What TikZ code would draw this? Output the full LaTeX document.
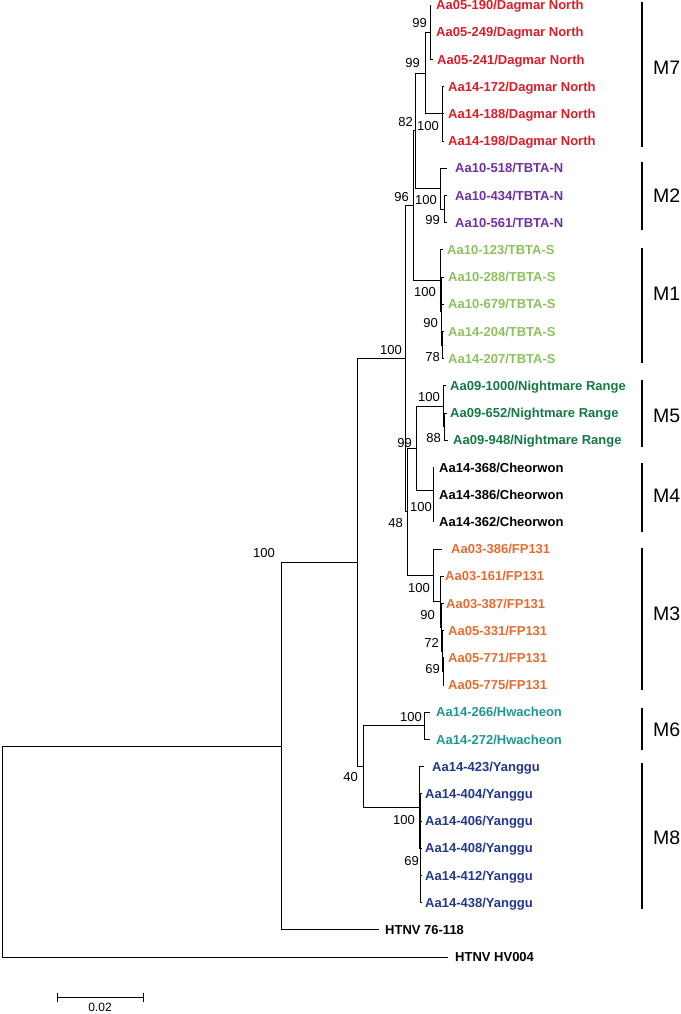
\documentclass[tikz,border=0pt]{standalone}
\usepackage{fontspec}
\setmainfont{Liberation Sans}
\definecolor{dagmar}{RGB}{218,30,40}
\definecolor{tbtan}{RGB}{112,48,160}
\definecolor{tbtas}{RGB}{141,193,96}
\definecolor{night}{RGB}{22,120,70}
\definecolor{fp}{RGB}{228,108,50}
\definecolor{hwa}{RGB}{32,150,148}
\definecolor{yang}{RGB}{35,55,140}
\tikzset{
  lab/.style={anchor=west,inner sep=0pt,text height=9.4pt,text depth=0pt,font=\fontsize{13}{15}\selectfont\bfseries},
  bs/.style={anchor=east,inner sep=0pt,text height=9.3pt,text depth=0pt,font=\fontsize{13}{15}\selectfont},
  br/.style={line width=0.9pt},
  mbar/.style={line width=1.8pt},
  mlab/.style={anchor=west,inner sep=0pt,text height=14pt,text depth=0pt,font=\fontsize{19.5}{22}\selectfont}
}
\begin{document}
\begin{tikzpicture}[x=1pt,y=-1pt]
\useasboundingbox (0,0) rectangle (680,1014);
% ---------- tips ----------
\coordinate (t0) at (431,5.0);
\coordinate (t1) at (431,32.2);
\coordinate (t2) at (433,59.4);
\coordinate (t3) at (444,86.6);
\coordinate (t4) at (444,113.8);
\coordinate (t5) at (444,141.0);
\coordinate (t6) at (447,168.2);
\coordinate (t7) at (447,195.4);
\coordinate (t8) at (447,222.6);
\coordinate (t9) at (443,249.8);
\coordinate (t10) at (444,277.0);
\coordinate (t11) at (444,304.2);
\coordinate (t12) at (444,331.4);
\coordinate (t13) at (444,358.6);
\coordinate (t14) at (446,385.8);
\coordinate (t15) at (447,413.0);
\coordinate (t16) at (448,440.2);
\coordinate (t17) at (434,467.4);
\coordinate (t18) at (434,494.6);
\coordinate (t19) at (434,521.8);
\coordinate (t20) at (442,549.0);
\coordinate (t21) at (444,576.2);
\coordinate (t22) at (444,603.4);
\coordinate (t23) at (444,630.6);
\coordinate (t24) at (444,657.8);
\coordinate (t25) at (444,685.0);
\coordinate (t26) at (430,712.2);
\coordinate (t27) at (430,739.4);
\coordinate (t28) at (424,766.6);
\coordinate (t29) at (422,793.8);
\coordinate (t30) at (422,821.0);
\coordinate (t31) at (422,848.2);
\coordinate (t32) at (422,875.4);
\coordinate (t33) at (422,902.6);
\coordinate (t34) at (379,929.8);
\coordinate (t35) at (448,957.0);
% ---------- labels ----------
\node[lab,dagmar] (l0) at (436,5.0) {Aa05-190/Dagmar North};
\node[lab,dagmar] (l1) at (436,32.2) {Aa05-249/Dagmar North};
\node[lab,dagmar] (l2) at (437,59.4) {Aa05-241/Dagmar North};
\node[lab,dagmar] (l3) at (448,86.6) {Aa14-172/Dagmar North};
\node[lab,dagmar] (l4) at (448,113.8) {Aa14-188/Dagmar North};
\node[lab,dagmar] (l5) at (448,141.0) {Aa14-198/Dagmar North};
\node[lab,tbtan] (l6) at (455,168.2) {Aa10-518/TBTA-N};
\node[lab,tbtan] (l7) at (455,195.4) {Aa10-434/TBTA-N};
\node[lab,tbtan] (l8) at (455,222.6) {Aa10-561/TBTA-N};
\node[lab,tbtas] (l9) at (447,249.8) {Aa10-123/TBTA-S};
\node[lab,tbtas] (l10) at (448,277.0) {Aa10-288/TBTA-S};
\node[lab,tbtas] (l11) at (448,304.2) {Aa10-679/TBTA-S};
\node[lab,tbtas] (l12) at (448,331.4) {Aa14-204/TBTA-S};
\node[lab,tbtas] (l13) at (448,358.6) {Aa14-207/TBTA-S};
\node[lab,night] (l14) at (450,385.8) {Aa09-1000/Nightmare Range};
\node[lab,night] (l15) at (450,413.0) {Aa09-652/Nightmare Range};
\node[lab,night] (l16) at (453,440.2) {Aa09-948/Nightmare Range};
\node[lab,black] (l17) at (439,467.4) {Aa14-368/Cheorwon};
\node[lab,black] (l18) at (439,494.6) {Aa14-386/Cheorwon};
\node[lab,black] (l19) at (439,521.8) {Aa14-362/Cheorwon};
\node[lab,fp] (l20) at (451,549.0) {Aa03-386/FP131};
\node[lab,fp] (l21) at (445,576.2) {Aa03-161/FP131};
\node[lab,fp] (l22) at (446,603.4) {Aa03-387/FP131};
\node[lab,fp] (l23) at (448,630.6) {Aa05-331/FP131};
\node[lab,fp] (l24) at (448,657.8) {Aa05-771/FP131};
\node[lab,fp] (l25) at (448,685.0) {Aa05-775/FP131};
\node[lab,hwa] (l26) at (436,712.2) {Aa14-266/Hwacheon};
\node[lab,hwa] (l27) at (436,739.4) {Aa14-272/Hwacheon};
\node[lab,yang] (l28) at (432,766.6) {Aa14-423/Yanggu};
\node[lab,yang] (l29) at (425,793.8) {Aa14-404/Yanggu};
\node[lab,yang] (l30) at (425,821.0) {Aa14-406/Yanggu};
\node[lab,yang] (l31) at (425,848.2) {Aa14-408/Yanggu};
\node[lab,yang] (l32) at (425,875.4) {Aa14-412/Yanggu};
\node[lab,yang] (l33) at (425,902.6) {Aa14-438/Yanggu};
\node[lab,black] (l34) at (385,929.8) {HTNV 76-118};
\node[lab,black] (l35) at (455,957.0) {HTNV HV004};
% ---------- internal nodes ----------
\coordinate (A) at (430,32.2);
\coordinate (B) at (442,113.8);
\coordinate (M7n) at (425,73);
\coordinate (M2b) at (444,209);
\coordinate (M2n) at (440,188.6);
\coordinate (N82) at (415,130.8);
\coordinate (M1c) at (442.5,345);
\coordinate (M1b) at (441,311);
\coordinate (M1n) at (440,280.4);
\coordinate (N96) at (413,205.6);
\coordinate (M5b) at (444.5,426.6);
\coordinate (M5n) at (443,406.2);
\coordinate (M4n) at (433,490);
\coordinate (N99) at (416,448);
\coordinate (M3e) at (443,671.4);
\coordinate (M3d) at (442.5,651);
\coordinate (M3c) at (441.5,627.2);
\coordinate (M3b) at (440,601.7);
\coordinate (M3n) at (433,575.4);
\coordinate (N48) at (407,511.7);
\coordinate (U) at (405,358.6);
\coordinate (M6n) at (424,725.8);
\coordinate (Y2) at (420.5,848.2);
\coordinate (M8n) at (419,807.4);
\coordinate (L) at (363,766.6);
\coordinate (A2) at (357,562.6);
\coordinate (A1) at (281,746.2);
\coordinate (R) at (2,851.6);
% ---------- branches ----------
\begin{scope}[br]
\draw (A) |- (t0); \draw (A) |- (t1); \draw (A) |- (t2);
\draw (B) |- (t3); \draw (B) |- (t4); \draw (B) |- (t5);
\draw (M7n) |- (A); \draw (M7n) |- (B);
\draw (M2b) |- (t7); \draw (M2b) |- (t8);
\draw (M2n) |- (t6); \draw (M2n) |- (M2b);
\draw (N82) |- (M7n); \draw (N82) |- (M2n);
\draw (M1c) |- (t12); \draw (M1c) |- (t13);
\draw (M1b) |- (t10); \draw (M1b) |- (t11); \draw (M1b) |- (M1c);
\draw (M1n) |- (t9); \draw (M1n) |- (M1b);
\draw (N96) |- (N82); \draw (N96) |- (M1n);
\draw (M5b) |- (t15); \draw (M5b) |- (t16);
\draw (M5n) |- (t14); \draw (M5n) |- (M5b);
\draw (M4n) |- (t17); \draw (M4n) |- (t18); \draw (M4n) |- (t19);
\draw (N99) |- (M5n); \draw (N99) |- (M4n);
\draw (M3e) |- (t24); \draw (M3e) |- (t25);
\draw (M3d) |- (t23); \draw (M3d) |- (M3e);
\draw (M3c) |- (t22); \draw (M3c) |- (M3d);
\draw (M3b) |- (t21); \draw (M3b) |- (M3c);
\draw (M3n) |- (t20); \draw (M3n) |- (M3b);
\draw (N48) |- (N99); \draw (N48) |- (M3n);
\draw (U) |- (N96); \draw (U) |- (N48);
\draw (M6n) |- (t26); \draw (M6n) |- (t27);
\draw (Y2) |- (t29); \draw (Y2) |- (t30); \draw (Y2) |- (t31); \draw (Y2) |- (t32); \draw (Y2) |- (t33);
\draw (M8n) |- (t28); \draw (M8n) |- (Y2);
\draw (L) |- (M6n); \draw (L) |- (M8n);
\draw (A2) |- (U); \draw (A2) |- (L);
\draw (A1) |- (A2); \draw (A1) |- (t34);
\draw (R) |- (A1); \draw (R) |- (t35);
\end{scope}
% ---------- bootstrap values ----------
\node[bs] (b1) at (427,23) {99};
\node[bs] (b2) at (420,63) {99};
\node[bs] (b3) at (413,122) {82};
\node[bs] (b4) at (439,126) {100};
\node[bs] (b5) at (409,197) {96};
\node[bs] (b6) at (437,200) {100};
\node[bs] (b7) at (440,220) {99};
\node[bs] (b8) at (436,292) {100};
\node[bs] (b9) at (438,323) {90};
\node[bs] (b10) at (440,357) {78};
\node[bs] (b11) at (402,350) {100};
\node[bs] (b12) at (440,397) {100};
\node[bs] (b13) at (441,438) {88};
\node[bs] (b14) at (412,443) {99};
\node[bs] (b15) at (432,507) {100};
\node[bs] (b16) at (403,523) {48};
\node[bs] (b17) at (430,588) {100};
\node[bs] (b18) at (435,615) {90};
\node[bs] (b19) at (439,643) {72};
\node[bs] (b20) at (440,669) {69};
\node[bs] (b21) at (422,717) {100};
\node[bs] (b22) at (415,820) {100};
\node[bs] (b23) at (419,861) {69};
\node[bs] (b24) at (358,777) {40};
\node[bs] (b25) at (275,553) {100};
% ---------- group bars ----------
\draw[mbar] (642,2) -- (642,147);
\draw[mbar] (642,162) -- (642,230);
\draw[mbar] (642,248) -- (642,363);
\draw[mbar] (642,380) -- (642,447);
\draw[mbar] (642,463) -- (642,532);
\draw[mbar] (642,548) -- (642,690);
\draw[mbar] (642,708) -- (642,750);
\draw[mbar] (642,763) -- (642,909);
\node[mlab] (g7) at (653,68) {M7};
\node[mlab] (g2) at (653,195) {M2};
\node[mlab] (g1) at (653,293) {M1};
\node[mlab] (g5) at (653,415) {M5};
\node[mlab] (g4) at (653,495) {M4};
\node[mlab] (g3) at (653,613) {M3};
\node[mlab] (g6) at (653,729) {M6};
\node[mlab] (g8) at (653,837) {M8};
% ---------- scale bar ----------
\coordinate (s1) at (57,997);
\coordinate (s2) at (143,997);
\draw[br] (s1) -- (s2);
\draw[br] ([yshift=4.5pt]s1) -- ([yshift=-4.5pt]s1);
\draw[br] ([yshift=4.5pt]s2) -- ([yshift=-4.5pt]s2);
\node[inner sep=0pt,text height=8.6pt,text depth=0pt,font=\fontsize{12}{14}\selectfont] (sc) at (100,1007.3) {0.02};
\end{tikzpicture}
\end{document}
